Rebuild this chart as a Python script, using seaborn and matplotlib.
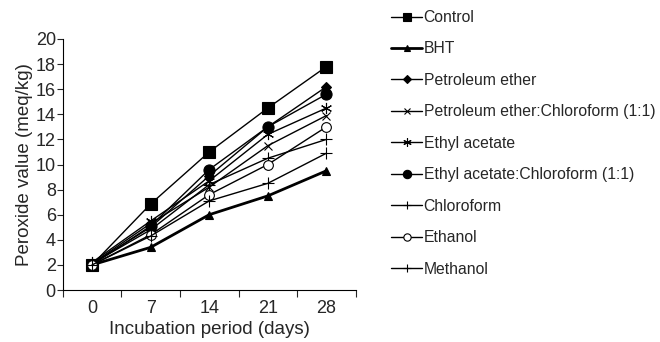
import numpy as np
import pandas as pd
import seaborn as sns
import matplotlib.pyplot as plt

days = ["0", "7", "14", "21", "28"]

control = [2.0, 6.85, 11.0, 14.5, 17.8]
bht = [2.0, 3.4, 6.0, 7.5, 9.5]
pet_ether = [2.1, 5.0, 9.1, 13.0, 16.2]
pet_chl = [2.1, 5.3, 8.2, 11.5, 13.9]
ethyl_acetate = [2.2, 5.5, 8.7, 12.4, 14.5]
ethyl_chl = [2.0, 5.1, 9.6, 13.0, 15.6]
chloroform = [2.1, 4.8, 8.4, 10.5, 12.0]
ethanol = [2.0, 4.4, 7.6, 10.0, 13.0]
methanol = [2.0, 4.3, 7.1, 8.5, 10.9]

labels = ["Control", "BHT", "Petroleum ether", "Petroleum ether:Chloroform (1:1)",
          "Ethyl acetate", "Ethyl acetate:Chloroform (1:1)", "Chloroform",
          "Ethanol", "Methanol"]
series = [control, bht, pet_ether, pet_chl, ethyl_acetate, ethyl_chl,
          chloroform, ethanol, methanol]

sns.set_style("white")
plt.rcParams['font.family'] = ['Liberation Sans', 'DejaVu Sans']

fig, ax = plt.subplots(figsize=(6.6, 3.42), dpi=100)
fig.subplots_adjust(left=0.095, right=0.539, top=0.886, bottom=0.152)

# marker, size, line width, fill
styles = [
    ("s", 8, 1.0, "black"),
    ("^", 6, 2.0, "black"),
    ("D", 5, 1.0, "black"),
    ("x", 6, 1.0, "black"),
    ((6, 2, 0), 8, 1.0, "black"),
    ("o", 8, 1.0, "black"),
    ("+", 8, 1.0, "black"),
    ("o", 7, 1.0, "white"),
    ("+", 8, 1.0, "black"),
]

pos = np.arange(len(days))
for lab, vals, (m, ms, lw, fc) in zip(labels, series, styles):
    df = pd.DataFrame({"x": pos, "y": vals})
    sns.lineplot(data=df, x="x", y="y", ax=ax, color="black", lw=lw,
                 marker=m, markersize=ms, markerfacecolor=fc,
                 markeredgecolor="black", markeredgewidth=0.8, label=lab)

ax.set_xlim(-0.5, len(days) - 0.5)
ax.set_ylim(0, 20)
ax.set_yticks(range(0, 21, 2))
ax.set_xticks(pos)
ax.set_xticklabels(days)
ax.set_xticks(np.arange(-0.5, len(days), 1), minor=True)
ax.tick_params(axis="x", which="major", length=0, pad=7, labelsize=13)
ax.tick_params(axis="x", which="minor", length=5, width=0.8, direction="out", bottom=True)
ax.tick_params(axis="y", length=4, width=0.8, direction="out", left=True, labelsize=13, pad=1)
sns.despine(ax=ax)
for s in ["left", "bottom"]:
    ax.spines[s].set_color("black")
    ax.spines[s].set_linewidth(0.8)

ax.set_xlabel("Incubation period (days)", fontsize=13.5, labelpad=3)
ax.set_ylabel("Peroxide value (meq/kg)", fontsize=13.5, labelpad=2)

handles, labs = ax.get_legend_handles_labels()
ax.get_legend().remove()
fig.legend(handles, labs, loc="upper left", bbox_to_anchor=(391 / 660, 1 - 10 / 342),
           frameon=False, fontsize=11.3, handlelength=2.0, handletextpad=0.08,
           labelspacing=1.05, borderpad=0, borderaxespad=0, markerscale=0.75)

fig.savefig("out.png", dpi=100)
